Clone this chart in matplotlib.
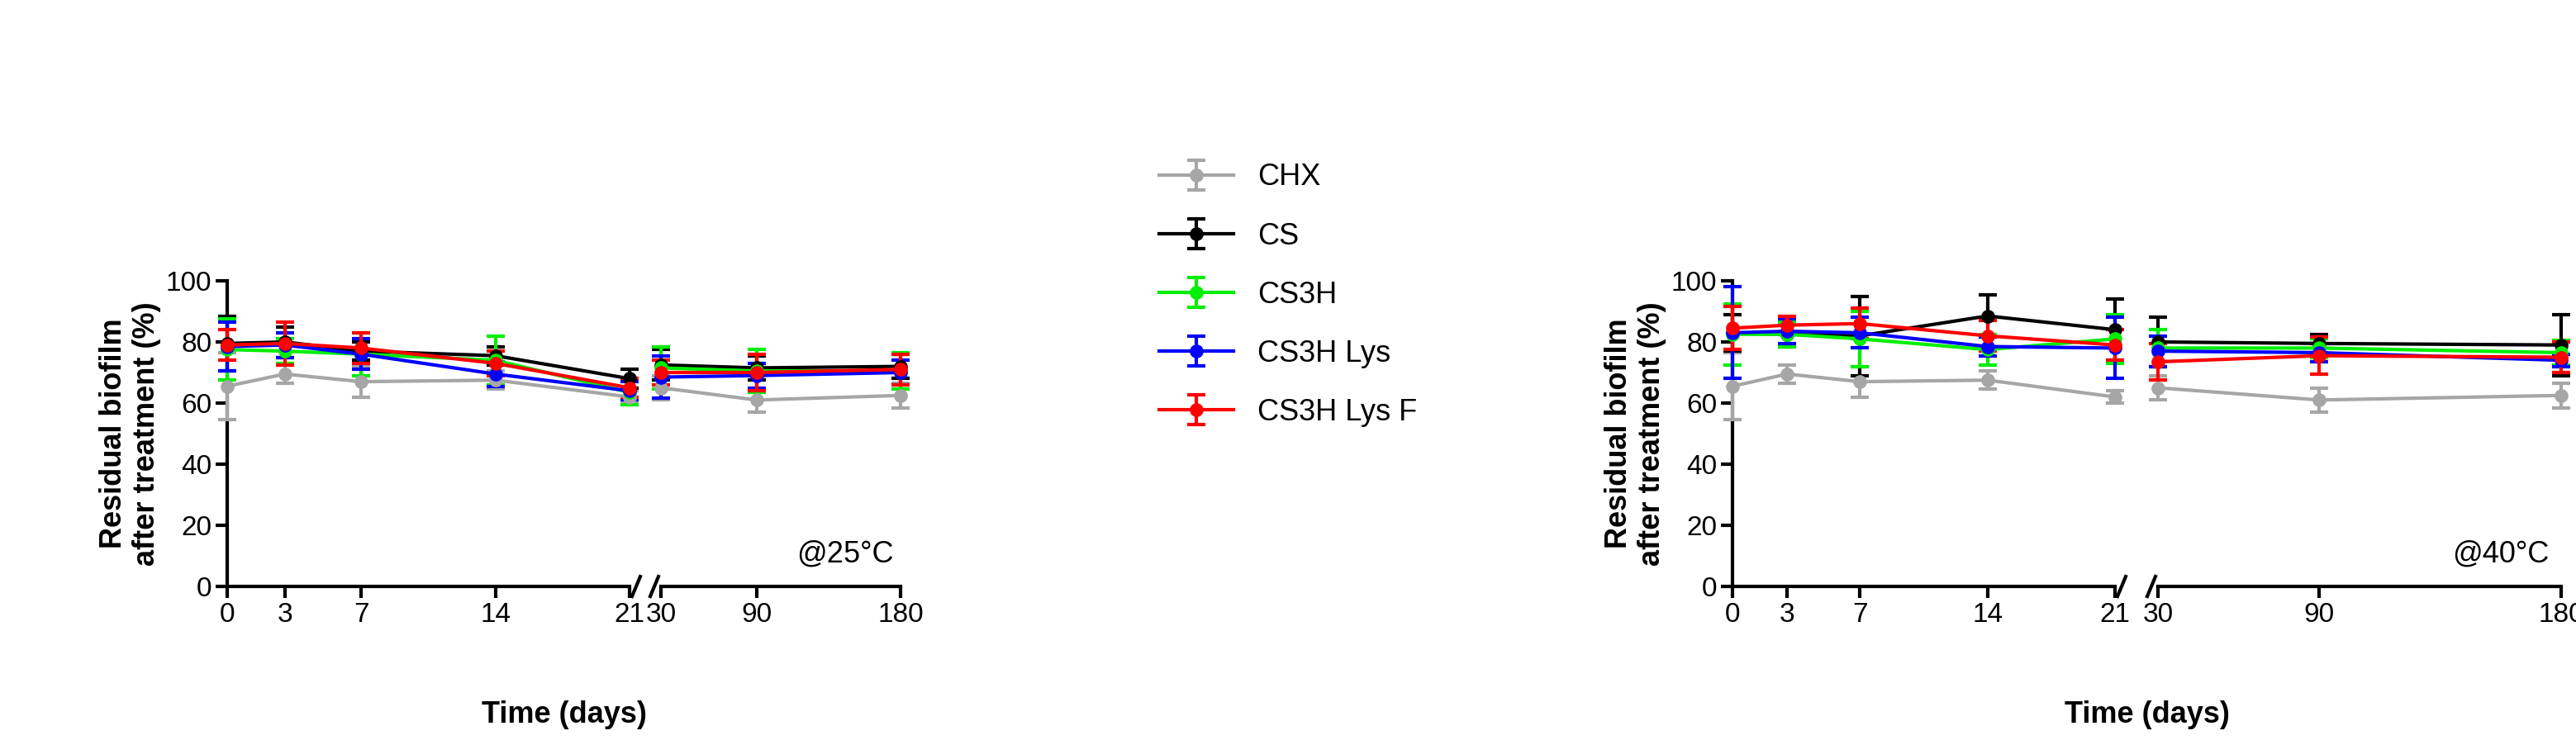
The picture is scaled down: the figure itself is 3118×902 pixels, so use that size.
import matplotlib
matplotlib.use("Agg")
import matplotlib.pyplot as plt
import numpy as np

days = [0, 3, 7, 14, 21, 30, 90, 180]
names = ["CHX", "CS", "CS3H", "CS3H Lys", "CS3H Lys F"]
colors = ["#a6a6a6", "#000000", "#00ee00", "#0000ff", "#ff0000"]

chx25 = [65.5, 69.5, 67, 67.5, 62, 65, 61, 62.5]
chx25e = [11, 3, 5, 3, 2, 4, 4, 4]
cs25 = [79.5, 80, 77, 75.5, 68, 72.5, 71.5, 72]
cs25e = [9, 5, 3, 3, 3, 5, 4, 4]
cs3h25 = [77.5, 77, 76, 74, 63.5, 71.5, 70.5, 70.5]
cs3h25e = [10, 4, 7, 8, 4, 7, 7, 6]
lys25 = [78.5, 79, 76, 69.5, 64, 68.5, 69, 70]
lys25e = [8, 4, 5, 4, 3, 7, 4, 4]
lysf25 = [79, 79.5, 78, 73, 65, 70, 70, 71]
lysf25e = [5, 7, 5, 4, 3, 4, 6, 5]

chx40 = [65.5, 69.5, 67, 67.5, 62, 65, 61, 62.5]
chx40e = [11, 3, 5, 3, 2, 4, 4, 4]
cs40 = [83, 82.5, 82, 88.5, 84, 80, 79.5, 79]
cs40e = [6, 4, 13, 7, 10, 8, 3, 10]
cs3h40 = [82.5, 82.5, 81, 77.5, 81, 78, 78, 76.5]
cs3h40e = [10, 4, 9, 5, 8, 6, 3, 4]
lys40 = [83, 83.5, 83, 78.5, 78, 77, 76.5, 74]
lys40e = [15, 4, 5, 3, 10, 5, 3, 2]
lysf40 = [84.5, 85.5, 86, 82, 79, 73.5, 75.5, 75]
lysf40e = [7, 3, 5, 5, 5, 6, 6, 5]

d25 = [(chx25, chx25e), (cs25, cs25e), (cs3h25, cs3h25e), (lys25, lys25e), (lysf25, lysf25e)]
d40 = [(chx40, chx40e), (cs40, cs40e), (cs3h40, cs3h40e), (lys40, lys40e), (lysf40, lysf40e)]

plt.rcParams['font.family'] = ['Liberation Sans', 'DejaVu Sans']
fig = plt.figure(figsize=(31.18, 9.02), dpi=100)
W, H = 3118, 902

def panel(x0, x1a, x2a, x3, data, label):
    bottom, top = (902 - 710) / H, (902 - 340) / H
    a1 = fig.add_axes([x0 / W, bottom, (x1a - x0) / W, top - bottom])
    a2 = fig.add_axes([x2a / W, bottom, (x3 - x2a) / W, top - bottom])
    d = np.array(days)
    for (v, e), c, n in zip(data, colors, names):
        v = np.array(v); e = np.array(e)
        for ax, m in ((a1, d <= 21), (a2, d >= 30)):
            ax.errorbar(d[m], v[m], yerr=e[m], color=c, lw=3, marker='o', ms=11,
                        capsize=8, capthick=3, elinewidth=3, label=n, clip_on=False, zorder=3)
    a1.set_xlim(0, 21); a2.set_xlim(30, 180)
    a1.set_xticks([0, 3, 7, 14, 21]); a2.set_xticks([30, 90, 180])
    for ax in (a1, a2):
        ax.set_ylim(0, 100)
        for s in ('top', 'right'):
            ax.spines[s].set_visible(False)
        ax.spines['bottom'].set_linewidth(3)
        ax.spines['left'].set_linewidth(3)
        ax.tick_params(width=3, length=10, labelsize=24)
    a1.set_yticks([0, 20, 40, 60, 80, 100])
    a2.spines['left'].set_visible(False)
    a2.set_yticks([])
    kw = dict(color='k', lw=3, clip_on=False, transform=fig.transFigure)
    yb = bottom
    for xx in (x1a + 8, x2a - 8):
        fig.add_artist(plt.Line2D([(xx - 5) / W, (xx + 5) / W], [yb - 12 / H, yb + 12 / H], **kw))
    a1.set_ylabel("Residual biofilm\nafter treatment (%)", fontsize=26, fontweight='bold')
    fig.text((x0 + x3) / 2 / W, 0.03, "Time (days)", fontsize=26, fontweight='bold', ha='center')
    a2.text(0.97, 0.08, label, transform=a2.transAxes, fontsize=26, ha='right')
    return a1

a = panel(275, 762, 800, 1090, d25, "@25\u00b0C")
panel(2097, 2560, 2612, 3100, d40, "@40\u00b0C")

h, l = a.get_legend_handles_labels()
fig.legend(h[:5], names, loc='upper left', bbox_to_anchor=(1370 / W, 1 - 165 / H),
           frameon=False, fontsize=26, labelspacing=1.0, handlelength=2.5)
fig.savefig("out.png", dpi=100)
